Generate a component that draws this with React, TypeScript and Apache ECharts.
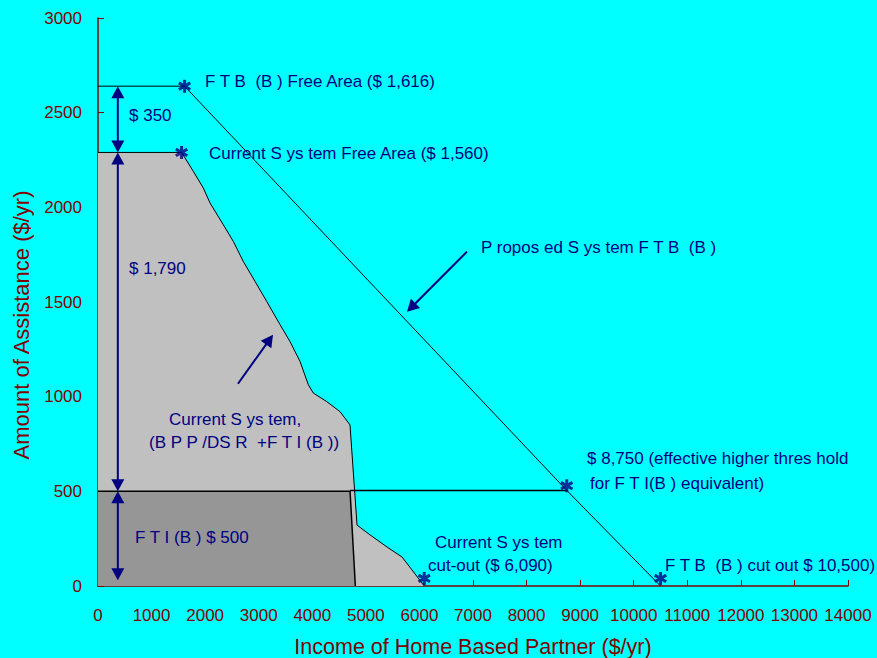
import React, { useEffect, useRef } from "react";
import * as echarts from "echarts";

// Proposed FTB (B) schedule: free area, effective FTI(B) threshold, cut-out
const ftbIncome = [0, 1616, 8750, 10500];
const ftbAmount = [2640, 2640, 505, 0];

// Current system (BPP/DSR + FTI(B)) payment curve
const currentIncome = [0, 1560, 1624, 1779, 1966, 2091, 2339, 2526, 2712, 2931, 3149, 3397, 3584, 3771, 3926, 4019, 4269, 4517, 4704, 4835, 5077, 5395, 5675, 5861, 6090];
const currentAmount = [2290, 2290, 2261, 2190, 2102, 2023, 1908, 1820, 1714, 1609, 1503, 1381, 1291, 1186, 1063, 1019, 974, 921, 851, 322, 270, 206, 153, 85, 0];

// FTI(B) component of the current system
const ftiIncome = [0, 4705, 4804];
const ftiAmount = [500, 500, 0];

// Effective FTI(B) equivalent level reaching the proposed line
const thresholdIncome = [4705, 8750];
const thresholdAmount = [505, 505];

// Marked points
const starIncome = [1616, 1560, 8750, 6090, 10500];
const starAmount = [2640, 2290, 530, 40, 40];

// Arrows: [x1, y1, x2, y2, head at start, head at end]
const arrows = [
  [370, 2640, 370, 2290, 1, 1],
  [370, 2290, 370, 500, 1, 1],
  [370, 500, 370, 30, 1, 1],
  [2613, 1068, 3267, 1327, 0, 1],
  [6888, 1766, 5768, 1448, 0, 1],
];

const xTicks = { min: 0, max: 14000, interval: 1000 };
const yTicks = { min: 0, max: 3000, interval: 500 };

const NAVY = "#000080";
const AXIS_RED = "#800000";
const FONT = "'Liberation Sans', Arial, sans-serif";

const zip = (xs: number[], ys: number[]) => xs.map((x, i) => [x, ys[i]]);

const ASTERISK =
  "path://M4.6 0 L7.4 0 L7.4 12 L4.6 12 Z M0.031 4.139 L1.431 1.714 L11.969 7.861 L10.569 10.286 Z M10.569 1.714 L11.969 4.139 L1.431 10.286 L0.031 7.861 Z";

const notes: [string, number, number][] = [
  ["F T B  (B ) Free Area ($ 1,616)", 205, 81],
  ["Current S ys tem Free Area ($ 1,560)", 209, 153],
  ["$ 350", 129, 115],
  ["$ 1,790", 129, 268],
  ["P ropos ed S ys tem F T B  (B )", 481, 247],
  ["Current S ys tem,", 169, 419],
  ["(B P P /DS R  +F T I (B ))", 149, 442],
  ["F T I (B ) $ 500", 135, 537],
  ["$ 8,750 (effective higher thres hold", 587, 458],
  ["for F T I(B ) equivalent)", 590, 483],
  ["Current S ys tem", 435, 542],
  ["cut-out ($ 6,090)", 428, 565],
  ["F T B  (B ) cut out $ 10,500)", 665, 565],
];

function arrowItem(params: any, api: any) {
  const p1 = api.coord([api.value(0), api.value(1)]);
  const p2 = api.coord([api.value(2), api.value(3)]);
  const headStart = api.value(4) === 1;
  const headEnd = api.value(5) === 1;
  const dx = p2[0] - p1[0];
  const dy = p2[1] - p1[1];
  const len = Math.sqrt(dx * dx + dy * dy) || 1;
  const ux = dx / len;
  const uy = dy / len;
  const nx = -uy;
  const ny = ux;
  const L = 12;
  const W = 6.5;
  const head = (tip: number[], sx: number, sy: number) => ({
    type: "polygon",
    shape: {
      points: [
        [tip[0], tip[1]],
        [tip[0] - sx * L + nx * W, tip[1] - sy * L + ny * W],
        [tip[0] - sx * L - nx * W, tip[1] - sy * L - ny * W],
      ],
    },
    style: { fill: NAVY },
  });
  const a = headStart ? [p1[0] + ux * (L - 2), p1[1] + uy * (L - 2)] : p1;
  const b = headEnd ? [p2[0] - ux * (L - 2), p2[1] - uy * (L - 2)] : p2;
  const children: any[] = [
    {
      type: "line",
      shape: { x1: a[0], y1: a[1], x2: b[0], y2: b[1] },
      style: { stroke: NAVY, lineWidth: 2 },
    },
  ];
  if (headStart) children.push(head(p1, -ux, -uy));
  if (headEnd) children.push(head(p2, ux, uy));
  return { type: "group", children };
}

export default function App() {
  const ref = useRef<HTMLDivElement>(null);

  useEffect(() => {
    if (!ref.current) return;
    const chart = echarts.init(ref.current, undefined, { renderer: "svg" });
    chart.setOption({
      animation: false,
      backgroundColor: "#00FFFF",
      grid: { left: 98, right: 29, top: 18, bottom: 72 },
      xAxis: {
        type: "value",
        ...xTicks,
        axisLine: { show: true, lineStyle: { color: AXIS_RED, width: 1.5 } },
        axisTick: { show: true, inside: true, length: 6, lineStyle: { color: AXIS_RED } },
        axisLabel: {
          color: AXIS_RED,
          fontSize: 17,
          fontFamily: FONT,
          margin: 21,
          formatter: (v: number) => String(v),
        },
        splitLine: { show: false },
      },
      yAxis: {
        type: "value",
        ...yTicks,
        axisLine: { show: true, lineStyle: { color: AXIS_RED, width: 1.5 } },
        axisTick: { show: true, inside: true, length: 6, lineStyle: { color: AXIS_RED } },
        axisLabel: {
          color: AXIS_RED,
          fontSize: 17,
          fontFamily: FONT,
          margin: 16,
          formatter: (v: number) => String(v),
        },
        splitLine: { show: false },
      },
      series: [
        {
          name: "Current System",
          type: "line",
          data: zip(currentIncome, currentAmount),
          showSymbol: false,
          lineStyle: { color: "#000000", width: 1 },
          areaStyle: { color: "#C0C0C0", opacity: 1 },
          z: 1,
        },
        {
          name: "FTI (B)",
          type: "line",
          data: zip(ftiIncome, ftiAmount),
          showSymbol: false,
          lineStyle: { color: "#000000", width: 1.5 },
          areaStyle: { color: "#969696", opacity: 1 },
          z: 2,
        },
        {
          name: "FTI (B) equivalent",
          type: "line",
          data: zip(thresholdIncome, thresholdAmount),
          showSymbol: false,
          lineStyle: { color: "#000000", width: 1.5 },
          z: 3,
        },
        {
          name: "Proposed System FTB (B)",
          type: "line",
          data: zip(ftbIncome, ftbAmount),
          showSymbol: false,
          lineStyle: { color: "#000000", width: 1 },
          z: 3,
        },
        {
          name: "Points",
          type: "scatter",
          data: zip(starIncome, starAmount),
          symbol: ASTERISK,
          symbolSize: 13,
          itemStyle: { color: NAVY },
          z: 5,
        },
        {
          name: "Arrows",
          type: "custom",
          renderItem: arrowItem,
          encode: { x: [0, 2], y: [1, 3] },
          data: arrows,
          z: 6,
        },
      ],
      graphic: [
        ...notes.map(([text, x, y]) => ({
          type: "text",
          x,
          y,
          z: 10,
          style: {
            text,
            fill: NAVY,
            fontSize: 17,
            fontFamily: FONT,
            verticalAlign: "middle",
            align: "left",
          },
        })),
        {
          type: "text",
          x: 21,
          y: 325,
          rotation: Math.PI / 2,
          style: {
            text: "Amount of Assistance ($/yr)",
            fill: AXIS_RED,
            fontSize: 22,
            fontFamily: FONT,
            align: "center",
            verticalAlign: "middle",
          },
        },
        {
          type: "text",
          x: 473,
          y: 647,
          style: {
            text: "Income of Home Based Partner ($/yr)",
            fill: AXIS_RED,
            fontSize: 21.5,
            fontFamily: FONT,
            align: "center",
            verticalAlign: "middle",
          },
        },
      ],
    });
    return () => chart.dispose();
  }, []);

  return (
    <div
      ref={ref}
      style={{ position: "absolute", left: 0, top: 0, width: 877, height: 658 }}
    />
  );
}
